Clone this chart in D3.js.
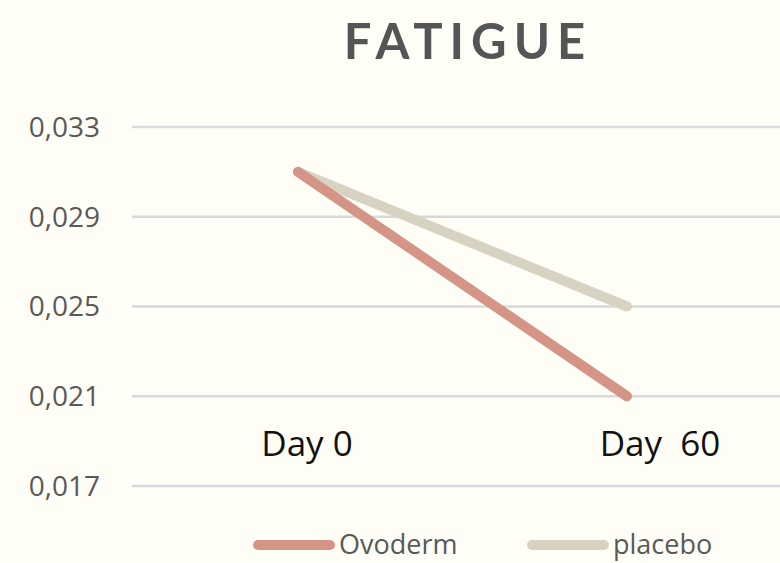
<!DOCTYPE html>
<html><head><meta charset="utf-8">
<script src="https://cdn.jsdelivr.net/npm/d3@7"></script>
<style>html,body{margin:0;padding:0;background:#FFFEF6;}svg{display:block;}</style>
</head><body>
<svg id="c" width="780" height="563"></svg>
<script>
const categories = ["Day 0", "Day  60"];
const ovoderm = [0.031, 0.021];
const placebo = [0.031, 0.025];
const yTicks = [0.017, 0.021, 0.025, 0.029, 0.033];
const seriesNames = ["Ovoderm", "placebo"];
const colors = ["#D49587", "#D8D2C3"];

const svg = d3.select("#c");
const x = d3.scalePoint().domain(categories).range([298, 627]);
const y = d3.scaleLinear().domain([0.017, 0.033]).range([486, 127]);

svg.append("text").attr("x", 468).attr("y", 59).attr("text-anchor", "middle")
  .attr("font-family", "Lato, 'Open Sans', sans-serif").attr("font-weight", 700)
  .attr("font-size", 49).attr("letter-spacing", 7).attr("fill", "#555555").text("FATIGUE");

// gridlines
svg.append("g").selectAll("line").data(yTicks).join("line")
  .attr("x1", 132).attr("x2", 780).attr("y1", d => y(d)).attr("y2", d => y(d))
  .attr("stroke", "#D9D9D9").attr("stroke-width", 2.5);

// y axis labels
const fmt = d => d3.format(".3f")(d).replace(".", ",");
svg.append("g").selectAll("text").data(yTicks).join("text")
  .attr("x", 100).attr("y", d => y(d)).attr("dy", "0.35em").attr("text-anchor", "end")
  .attr("font-family", "'Open Sans', sans-serif").attr("font-size", 28).attr("fill", "#595959")
  .text(fmt);

// category labels
const labelOffsets = [9, 33];
svg.append("g").selectAll("text").data(categories).join("text")
  .attr("x", (d, i) => x(d) + labelOffsets[i]).attr("y", 456).attr("text-anchor", "middle")
  .attr("font-family", "'Open Sans', sans-serif").attr("font-size", 35).attr("fill", "#111")
  .attr("xml:space", "preserve").style("white-space", "pre")
  .text(d => d);

const line = d3.line().x((d, i) => x(categories[i])).y(d => y(d));
const data = [placebo, ovoderm];
const cols = [colors[1], colors[0]];
svg.append("g").selectAll("path").data(data).join("path")
  .attr("d", d => line(d)).attr("fill", "none")
  .attr("stroke", (d, i) => cols[i]).attr("stroke-width", 10)
  .attr("stroke-linecap", "round").attr("stroke-linejoin", "round");

// legend
const legendX = [258, 532];
const lg = svg.append("g").selectAll("g").data(seriesNames).join("g")
  .attr("transform", (d, i) => `translate(${legendX[i]},545)`);
lg.append("line").attr("x1", 0).attr("x2", 72).attr("y1", 0).attr("y2", 0)
  .attr("stroke", (d, i) => colors[i]).attr("stroke-width", 10).attr("stroke-linecap", "round");
lg.append("text").attr("x", 81).attr("y", 0).attr("dy", "0.35em")
  .attr("font-family", "'Open Sans', sans-serif").attr("font-size", 27).attr("fill", "#595959")
  .text(d => d);
</script>
</body></html>
